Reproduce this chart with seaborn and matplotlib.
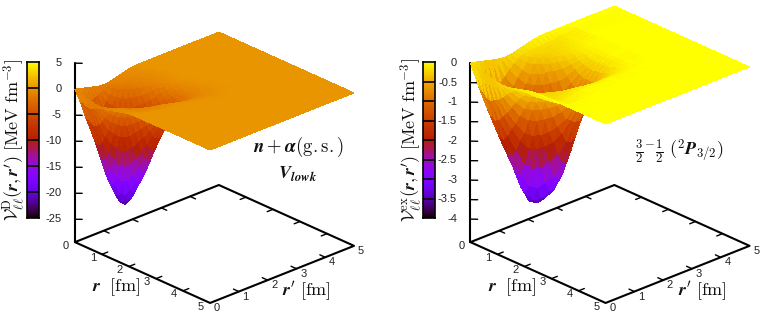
import numpy as np
import pandas as pd
import matplotlib
matplotlib.use('Agg')
import matplotlib.pyplot as plt
import matplotlib.tri as mtri
import seaborn as sns
from mpl_toolkits.mplot3d import proj3d

sns.set_theme(style='white')
plt.rcParams['font.family'] = ['Liberation Sans', 'DejaVu Sans']
plt.rcParams['mathtext.fontset'] = 'cm'

# radial nodes in fm, each row starts on the diagonal, anything not listed is 0
direct_nodes = [0, .1, .2, .3, .4, .5, .6, .7, .8, .9, 1, 1.1, 1.2, 1.3, 1.4, 1.5, 1.6, 1.7, 1.8, 1.9,
                2, 2.1, 2.2, 2.3, 2.4, 2.5, 2.6, 2.7, 2.8, 2.9, 3, 5]
exchange_nodes = [0, .15, .3, .45, .6, .75, .9, 1.05, 1.2, 1.35, 1.5, 1.65, 1.8, 1.95, 2.1, 2.25, 2.4,
                  2.55, 2.7, 2.85, 3, 3.45, 5]

direct_depth = [
    [0, .15, .3, .45, .6, .75, .9, 1.05, 1.2, 1.28, 1.3, 1.28, 1.2, 1.05, .9, .75, .6, .45, .3, .2, .1],
    [2.5, 2.2, 2.6, 2.8, 2.8, 2.6, 2.3, 2.0, 1.7, 1.45, 1.3, 1.05, .95, .85, .75, .65, .55, .45, .35, .25, .12],
    [5.6, 5.6, 6.0, 6.2, 6.0, 5.4, 4.6, 3.6, 2.6, 1.8, 1.3, 1.1, .95, .85, .75, .65, .55, .45, .3, .2],
    [8.3, 9.42, 9.97, 9.93, 9.15, 7.76, 6.13, 4.46, 3.04, 1.94, 1.35, 1.15, 1.0, .9, .8, .7, .6, .45, .3, .12],
    [11.2, 12.53, 12.99, 12.4, 10.97, 8.97, 6.86, 4.94, 3.33, 2.06, 1.4, 1.2, 1.0, .9, .8, .65, .5, .35, .2],
    [14.6, 15.63, 15.58, 14.32, 12.29, 9.93, 7.53, 5.26, 3.41, 2.03, 1.4, 1.2, 1.0, .9, .75, .6, .45, .3, .12],
    [17.5, 18.06, 17.44, 15.86, 13.48, 10.56, 7.7, 5.18, 3.26, 1.88, 1.35, 1.1, .95, .8, .65, .5, .35, .2],
    [19.6, 20.0, 19.14, 16.86, 13.79, 10.41, 7.35, 4.8, 2.95, 1.69, 1.25, 1.0, .85, .7, .55, .4, .25, .1],
    [21.5, 21.26, 19.58, 16.63, 13.17, 9.64, 6.65, 4.32, 2.64, 1.49, 1.1, .9, .75, .6, .45, .3, .15],
    [22, 20.97, 18.69, 15.4, 11.91, 8.68, 5.95, 3.82, 2.29, 1.27, .95, .75, .6, .45, .3, .15, .05],
    [21, 19.42, 16.91, 13.86, 10.66, 7.66, 5.18, 3.24, 1.89, 1.03, .75, .6, .45, .32, .2, .08],
    [19, 17.48, 15.13, 12.24, 9.28, 6.51, 4.27, 2.64, 1.52, .82, .55, .42, .3, .2, .1, .03],
    [17, 15.44, 13.17, 10.4, 7.65, 5.3, 3.43, 2.09, 1.18, .62, .4, .28, .18, .1, .03],
    [14.8, 13.11, 10.86, 8.47, 6.14, 4.19, 2.66, 1.58, .87, .45, .27, .17, .1, .04],
    [12.2, 10.68, 8.72, 6.7, 4.77, 3.18, 1.96, 1.15, .62, .32, .17, .1, .05, .01],
    [9.8, 8.45, 6.76, 5.08, 3.51, 2.31, 1.4, .82, .43, .22, .1, .05, .02],
    [7.6, 6.41, 4.98, 3.7, 2.51, 1.64, .98, .55, .29, .15, .07, .03, .01],
    [5.6, 4.66, 3.56, 2.62, 1.76, 1.11, .67, .38, .2, .1, .05, .02, .01],
    [4, 3.3, 2.49, 1.77, 1.19, .77, .46, .26, .14, .07, .03, .01],
    [2.8, 2.23, 1.69, 1.23, .82, .53, .32, .18, .09, .05, .02, .01],
    [1.9, 1.55, 1.16, .85, .56, .36, .21, .12, .06, .03, .01],
    [1.3, 1.07, .8, .58, .38, .24, .14, .08, .04, .02],
    [.9, .73, .53, .39, .25, .15, .09, .05, .02],
    [.6, .49, .36, .25, .16, .1, .05, .03],
    [.4, .31, .22, .15, .09, .06, .03],
    [.25, .19, .13, .09, .06, .03],
    [.15, .12, .09, .05, .03],
]

exchange_depth = [
    [0, .02, .05, .08, .11, .14, .165, .185, .2, .19, .17, .14, .11, .08, .05, .03, .01],
    [.6, .68, .79, .81, .74, .68, .57, .45, .35, .27, .24, .22, .2, .2, .2, .18, .17, .16, .14, .12, .04],
    [1.15, 1.29, 1.36, 1.29, 1.14, 1.01, .82, .65, .51, .39, .28, .25, .23, .22, .21, .2, .18, .16, .14, .04],
    [1.66, 1.83, 1.85, 1.69, 1.46, 1.29, 1.04, .81, .6, .43, .3, .27, .25, .23, .21, .19, .16, .13, .03],
    [2.15, 2.28, 2.24, 2.04, 1.76, 1.52, 1.16, .85, .61, .42, .29, .26, .23, .2, .18, .15, .12, .03],
    [2.6, 2.75, 2.71, 2.41, 1.97, 1.6, 1.17, .84, .58, .4, .27, .22, .19, .16, .13, .1, .02],
    [3.15, 3.25, 3.02, 2.54, 1.99, 1.58, 1.13, .79, .54, .36, .24, .18, .15, .12, .09, .02],
    [3.51, 3.42, 3.07, 2.5, 1.91, 1.49, 1.06, .72, .48, .31, .19, .13, .1, .07, .01],
    [3.56, 3.37, 2.94, 2.36, 1.79, 1.35, .92, .61, .37, .22, .13, .08, .05],
    [3.41, 3.19, 2.76, 2.14, 1.57, 1.15, .73, .45, .26, .15, .09, .05],
    [3.2, 2.89, 2.41, 1.82, 1.23, .84, .51, .3, .17, .09, .05],
    [2.8, 2.46, 1.89, 1.33, .86, .56, .33, .19, .1, .055],
    [2.2, 1.79, 1.33, .89, .56, .36, .2, .11, .06],
    [1.54, 1.2, .86, .56, .33, .18, .09, .04],
    [1.0, .76, .52, .33, .19, .1, .05],
    [.6, .44, .29, .18, .1, .05],
    [.34, .24, .15, .09, .05],
    [.18, .13, .08, .05],
    [.09, .06, .04],
    [.05, .03],
    [.02],
]

r_ticks = [0, 1, 2, 3, 4, 5]
direct_ticks = [5, 0, -5, -10, -15, -20, -25]
direct_labels = ['5', '0', '-5', '-10', '-15', '-20', '-25']
exchange_ticks = [0, -.5, -1, -1.5, -2, -2.5, -3, -3.5, -4]
exchange_labels = ['0', '-0.5', '-1', '-1.5', '-2', '-2.5', '-3', '-3.5', '-4']

W, H = 763, 319


def full_table(nodes, rows):
    n = len(nodes)
    table = np.zeros((n, n))
    for i, row in enumerate(rows):
        table[i, i:i + len(row)] = row
        table[i:i + len(row), i] = row
    return -table


def diagonal_mesh(n):
    # every cell is split along r = r', so the trough bottom runs along mesh edges
    tris = []
    for i in range(n - 1):
        for j in range(n - 1):
            a, b, c, d = i * n + j, (i + 1) * n + j, (i + 1) * n + j + 1, i * n + j + 1
            tris.append([a, b, c])
            tris.append([a, c, d])
    return tris


def tick_text(ax, x, y, z, s, **kw):
    # plain 2D text placed where the 3D point lands
    px, py, _ = proj3d.proj_transform(x, y, z, ax.get_proj())
    ax.text2D(px, py, s, transform=ax.transData, va='center', fontsize=8, color='#222222', **kw)


def draw_panel(fig, nodes, depth, ticks, labels, zlim, left_px, bar_px):
    ax = fig.add_axes([left_px / W, -6 / H, 332 / W, 332 / H], projection='3d',
                      proj_type='ortho', computed_zorder=False)
    ax.view_init(elev=25, azim=-43.2)
    ax.set_box_aspect((1, 1, 1))
    ax.set_axis_off()
    ax.patch.set_alpha(0)
    ax.set_xlim(0, 5)
    ax.set_ylim(0, 5)
    ax.set_zlim(*zlim)

    floor = zlim[0]
    span = zlim[1] - zlim[0]

    # floor frame with inward ticks on all four sides
    ax.plot([0, 5, 5, 0, 0], [0, 0, 5, 5, 0], [floor] * 5, color='black', lw=1.5, zorder=1)
    for t in r_ticks[1:-1]:
        ax.plot([t, t], [0, .2], [floor, floor], color='black', lw=1, zorder=1)
        ax.plot([t, t], [5, 4.8], [floor, floor], color='black', lw=1, zorder=1)
        ax.plot([0, .2], [t, t], [floor, floor], color='black', lw=1, zorder=1)
        ax.plot([5, 4.8], [t, t], [floor, floor], color='black', lw=1, zorder=1)
    for t in r_ticks:
        tick_text(ax, t, -.32, floor, str(t), ha='center')
        tick_text(ax, 5.25, t, floor - .012 * span, str(t), ha='center')

    # vertical axis at the origin
    ax.plot([0, 0], [0, 0], [floor, ticks[0]], color='black', lw=1.5, zorder=1)
    for t, lab in zip(ticks, labels):
        ax.plot([0, .13], [0, .13], [t, t], color='black', lw=1, zorder=1)
        tick_text(ax, -.24, -.24, t, lab, ha='right')

    grid_r, grid_rp = np.meshgrid(nodes, nodes, indexing='ij')
    mesh = mtri.Triangulation(grid_r.ravel(), grid_rp.ravel(), diagonal_mesh(len(nodes)))
    ax.plot_trisurf(mesh, full_table(nodes, depth).ravel(), cmap='gnuplot', vmin=ticks[-1], vmax=ticks[0],
                    linewidth=0, antialiased=False, shade=False, zorder=2)

    # colour bar, black lines on the ticks
    cax = fig.add_axes([bar_px / W, 1 - 218 / H, 11.5 / W, 156 / H])
    strip = pd.DataFrame(np.linspace(ticks[0], ticks[-1], 256).reshape(-1, 1))
    sns.heatmap(strip, ax=cax, cmap='gnuplot', vmin=ticks[-1], vmax=ticks[0], cbar=False,
                xticklabels=False, yticklabels=False, rasterized=True)
    for t in ticks[1:-1]:
        cax.axhline(256 * (ticks[0] - t) / (ticks[0] - ticks[-1]), color='black', lw=1.2)
    for side in cax.spines.values():
        side.set_visible(True)
        side.set_color('black')
        side.set_linewidth(1.2)


fig = plt.figure(figsize=(W / 100, H / 100), dpi=100)
draw_panel(fig, direct_nodes, direct_depth, direct_ticks, direct_labels, (-29.4, 5), 44, 27)
draw_panel(fig, exchange_nodes, exchange_depth, exchange_ticks, exchange_labels, (-4.59, 0), 439.5, 423)


def label(x, y, s, size, **kw):
    fig.text(x / W, 1 - y / H, s, ha='center', va='center', fontsize=size, color='#111111', **kw)


label(14, 140, r"$\mathcal{V}_{\ell\ell}^{\mathrm{D}}(\mathbfit{r},\mathbfit{r}')\ [\mathrm{MeV\ fm}^{-3}]$", 13, rotation=90)
label(411, 140, r"$\mathcal{V}_{\ell\ell}^{\mathrm{ex}}(\mathbfit{r},\mathbfit{r}')\ [\mathrm{MeV\ fm}^{-3}]$", 13, rotation=90)
label(116, 287, r"$\mathbfit{r}\ \ [\mathrm{fm}]$", 13)
label(306, 291, r"$\mathbfit{r}'\ [\mathrm{fm}]$", 13)
label(512, 287, r"$\mathbfit{r}\ \ [\mathrm{fm}]$", 13)
label(702, 291, r"$\mathbfit{r}'\ [\mathrm{fm}]$", 13)
label(298, 147, r"$\mathbfit{n}+\mathbfit{\alpha}(\mathrm{g.s.})$", 13.5)
label(298, 174, r"$\mathbfit{V}_{\mathbfit{lowk}}$", 13)
label(679, 152, r"$\frac{3}{2}^{-}\frac{1}{2}\ (^{2}\mathbfit{P}_{3/2})$", 13)

fig.savefig('out.png', dpi=100)
plt.close(fig)
